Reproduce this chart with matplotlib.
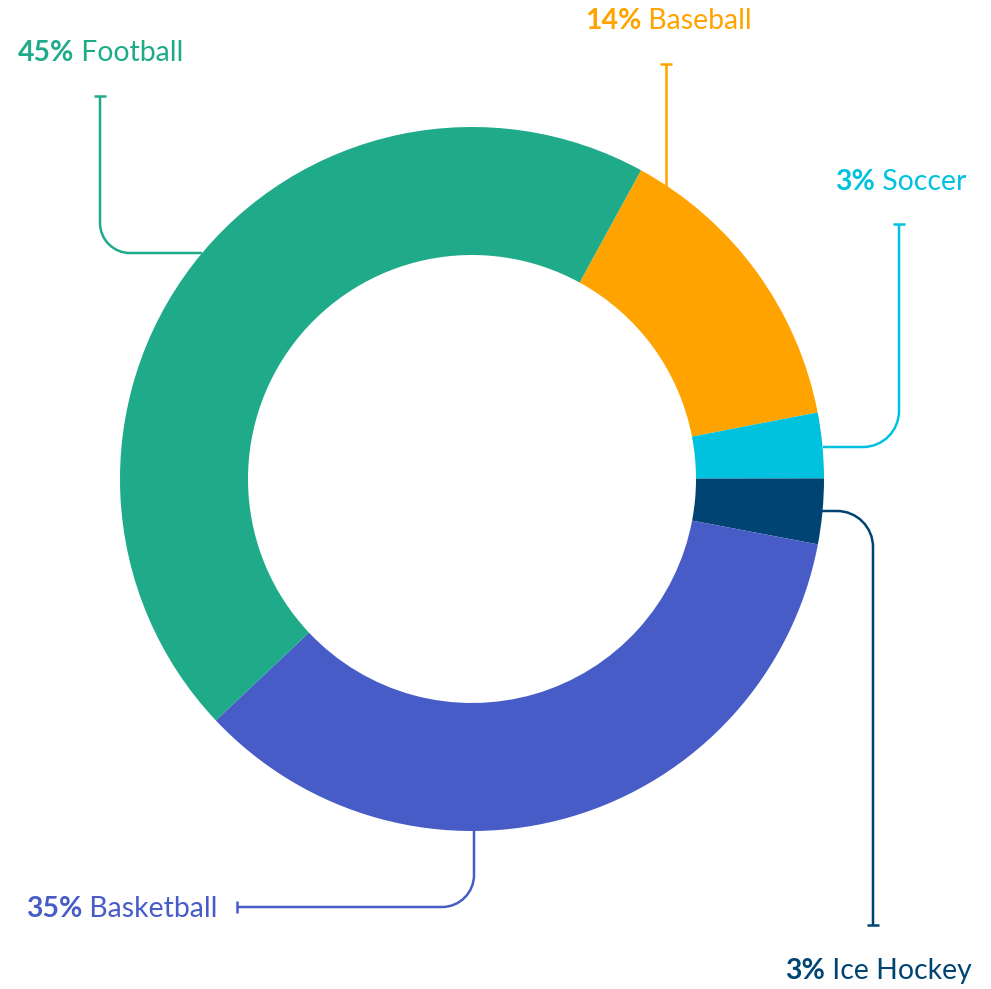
import numpy as np
import matplotlib.pyplot as plt
from matplotlib.path import Path
from matplotlib.patches import PathPatch

# data
sports = ["Baseball", "Soccer", "Ice Hockey", "Basketball", "Football"]
shares = [14, 3, 3, 35, 45]
colours = ["#FFA300", "#00C2DE", "#004473", "#485CC7", "#1FAB89"]

# layout in pixel coordinates (y grows downwards)
W, H = 991, 989
cx, cy = 472, 479
r_out, ring = 352, 128

fig = plt.figure(figsize=(W / 100, H / 100), dpi=100)
ax = fig.add_axes([0, 0, 1, 1])

ax.pie(shares, colors=colours, radius=r_out, center=(cx, cy),
       startangle=-61.3, counterclock=True,
       wedgeprops=dict(width=ring, linewidth=0))
ax.set_xlim(0, W)
ax.set_ylim(H, 0)
ax.set_aspect("equal")
ax.axis("off")


def leader(points, corner_r, colour, tick):
    # polyline with rounded corners, tick = (x0, y0, x1, y1) end bar
    verts = [points[0]]
    codes = [Path.MOVETO]
    k = 0.5523
    for i in range(1, len(points) - 1):
        p0 = np.array(points[i - 1], float)
        p1 = np.array(points[i], float)
        p2 = np.array(points[i + 1], float)
        d0 = (p1 - p0) / np.linalg.norm(p1 - p0)
        d1 = (p2 - p1) / np.linalg.norm(p2 - p1)
        a = p1 - d0 * corner_r
        b = p1 + d1 * corner_r
        verts += [tuple(a), tuple(a + d0 * corner_r * k),
                  tuple(b - d1 * corner_r * k), tuple(b)]
        codes += [Path.LINETO, Path.CURVE4, Path.CURVE4, Path.CURVE4]
    verts.append(points[-1])
    codes.append(Path.LINETO)
    ax.add_patch(PathPatch(Path(verts, codes), fill=False,
                           edgecolor=colour, linewidth=1.8))
    ax.plot([tick[0], tick[2]], [tick[1], tick[3]], color=colour,
            linewidth=1.8, solid_capstyle="butt")


def label(x, y, pct, name, colour):
    t = ax.text(x, y, f"{pct}%", color=colour, fontsize=20.4,
                fontweight="bold", family="Lato", va="center", ha="left")
    ax.annotate(" " + name, xy=(1, 0), xycoords=t, va="bottom", ha="left",
                color=colour, fontsize=20.4, family="Lato")


c = dict(zip(sports, colours))
p = dict(zip(sports, shares))

# Football
leader([(202, 253), (100, 253), (100, 96)], 30, c["Football"], (94, 96, 106, 96))
label(18, 53, p["Football"], "Football", c["Football"])

# Baseball
leader([(666, 186), (666, 64)], 0, c["Baseball"], (660, 64, 672, 64))
label(585, 21, p["Baseball"], "Baseball", c["Baseball"])

# Soccer
leader([(823, 447), (899, 447), (899, 224)], 36, c["Soccer"], (893, 224, 905, 224))
label(835, 182, p["Soccer"], "Soccer", c["Soccer"])

# Ice Hockey
leader([(822, 511), (873, 511), (873, 925)], 36, c["Ice Hockey"], (867, 925, 879, 925))
label(785, 971, p["Ice Hockey"], "Ice Hockey", c["Ice Hockey"])

# Basketball
leader([(474, 830), (474, 907), (237, 907)], 32, c["Basketball"], (237, 901, 237, 913))
label(26, 909, p["Basketball"], "Basketball", c["Basketball"])

fig.savefig("out.png", dpi=100)
